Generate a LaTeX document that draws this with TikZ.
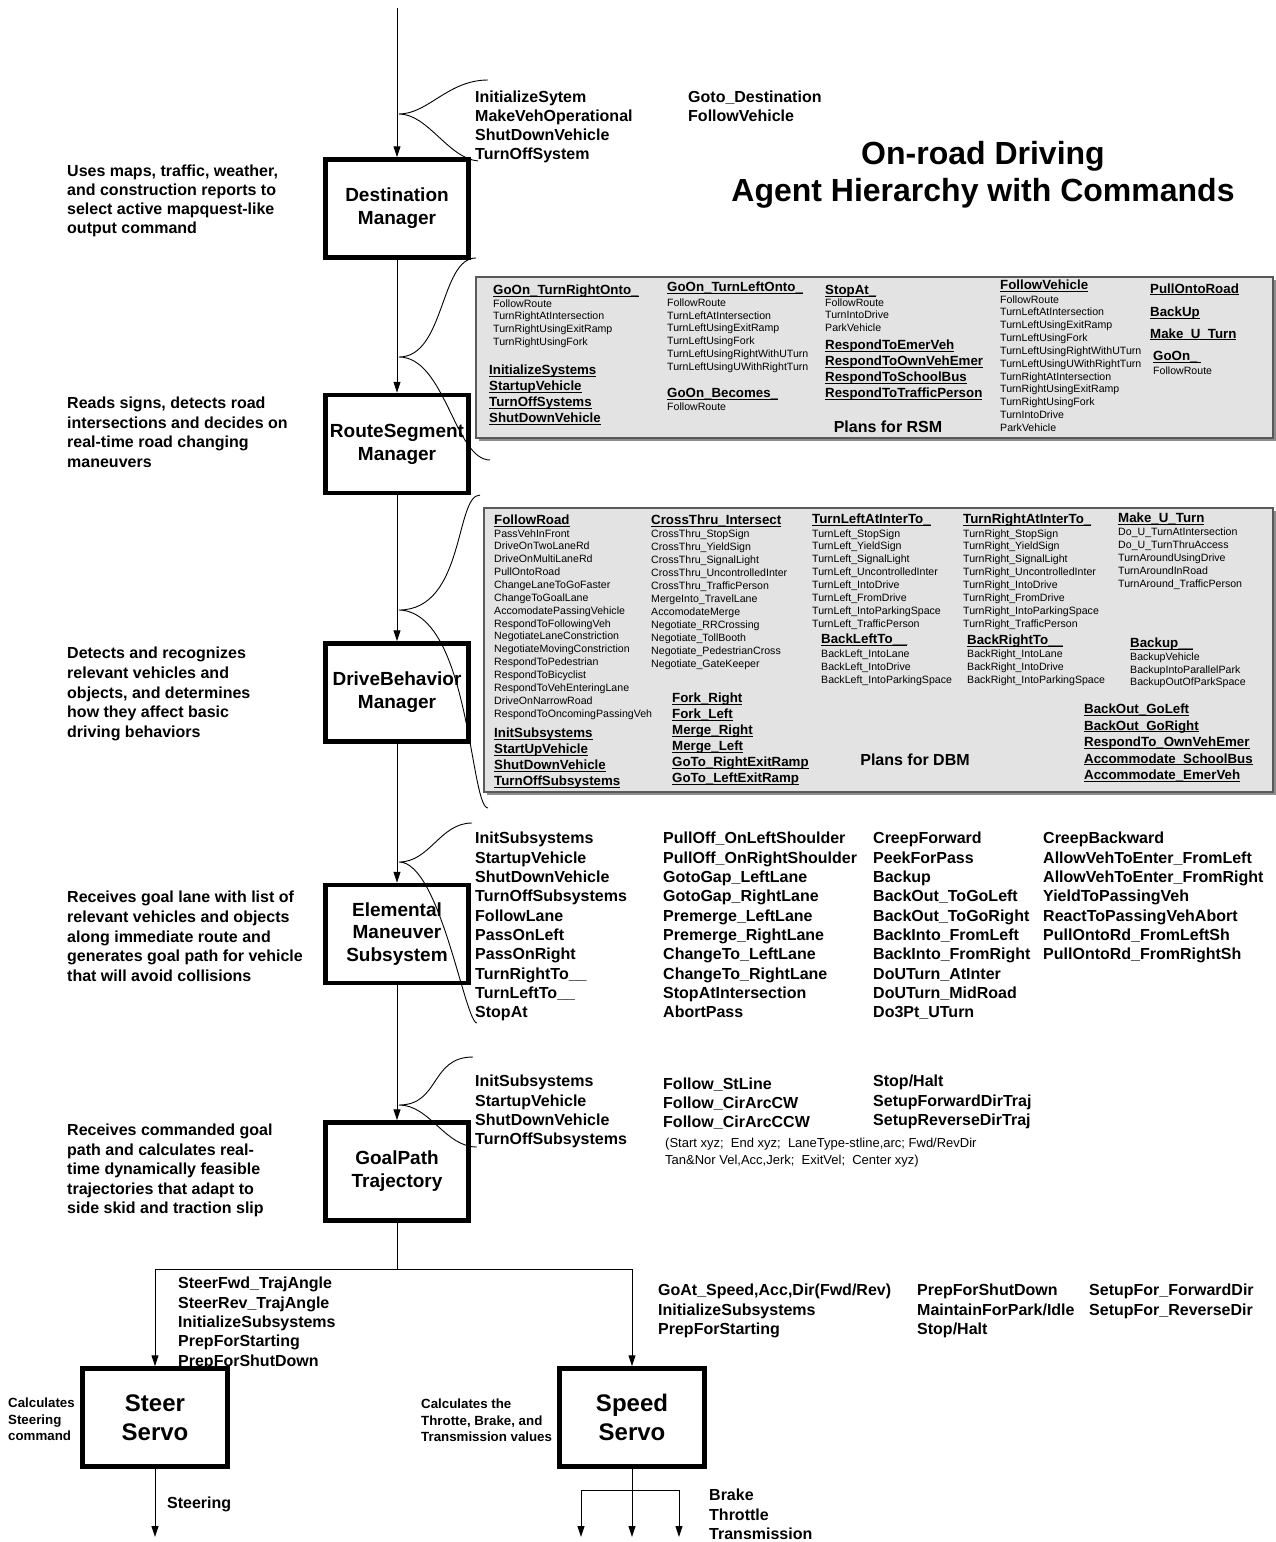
\documentclass[tikz,border=0pt]{standalone}
\usepackage{fontspec}
\setmainfont{Liberation Sans}
\usetikzlibrary{arrows.meta}

% underline that sits at the level of an underscore
\newsavebox\ulbox
\newcommand\ul[1]{\sbox\ulbox{#1}\rlap{\rule[-0.16em]{\wd\ulbox}{0.085em}}\usebox\ulbox}
% a column of text lines: name, style, x, first baseline, line step, lines
\newcommand\txtcol[6]{\foreach \txt [count=\i] in {#6}{\node[#2] (#1\i) at ({#3},{#4+(\i-1)*#5}) {\txt};}}

\tikzset{
  lbl/.style={inner sep=0pt, anchor=base west},
  cmd/.style={lbl, font=\fontsize{16}{19}\selectfont\bfseries},
  hdr/.style={lbl, font=\fontsize{13.3}{16}\selectfont\bfseries},
  itm/.style={lbl, font=\fontsize{10.6}{13}\selectfont},
  note/.style={lbl, font=\fontsize{13.3}{16}\selectfont\bfseries},
  param/.style={lbl, font=\fontsize{13}{16}\selectfont},
  title/.style={inner sep=0pt, anchor=base, font=\fontsize{32}{38}\selectfont\bfseries},
  plantitle/.style={inner sep=0pt, anchor=base, font=\fontsize{16}{19}\selectfont\bfseries},
  agent/.style={draw, line width=4.5pt, minimum width=143pt, minimum height=98pt,
    align=center, inner sep=0pt, font=\fontsize{19}{23}\selectfont\bfseries},
  servo/.style={agent, minimum width=145pt, font=\fontsize{24}{29}\selectfont\bfseries},
  plans/.style={draw=black!65, fill=black!11, line width=1.6pt, inner sep=0pt},
  shade/.style={fill=black!45},
  flow/.style={line width=1pt, -{Triangle[length=11pt,width=7pt]}},
  wire/.style={line width=1pt},
  brace/.style={line width=0.9pt},
}

\begin{document}
\begin{tikzpicture}[x=1pt,y=-1pt]
\useasboundingbox (0,0) rectangle (1275,1542);
\fill[white] (0,0) rectangle (1275,1542);

% ---------- plan panels ----------
\fill[shade] (479,280) rectangle (1276,441);
\node[plans, minimum width=797pt, minimum height=161pt] (rsmplans) at (874.5,357.5) {};
\fill[shade] (487,511) rectangle (1276,795);
\node[plans, minimum width=789pt, minimum height=284pt] (dbmplans) at (878.5,650) {};

% ---------- agents ----------
\node[agent] (dm) at (397,208.5) {Destination\\Manager};
\node[agent] (rsm) at (397,444) {RouteSegment\\Manager};
\node[agent] (dbm) at (397,692.5) {DriveBehavior\\Manager};
\node[agent, font=\fontsize{19}{22.5}\selectfont\bfseries] (ems) at (397,934) {Elemental\\Maneuver\\Subsystem};
\node[agent] (gpt) at (397,1171.5) {GoalPath\\Trajectory};
\node[servo] (steer) at (155,1417.5) {Steer\\Servo};
\node[servo] (speed) at (632,1417.5) {Speed\\Servo};

% ---------- command flow ----------
\coordinate (entry) at (397,8);
\draw[flow] (entry) -- (dm);
\draw[flow] (dm) -- (rsm);
\draw[flow] (rsm) -- (dbm);
\draw[flow] (dbm) -- (ems);
\draw[flow] (ems) -- (gpt);
\coordinate (bus) at (397,1269);
\coordinate (busL) at (155,1269);
\coordinate (busR) at (632,1269);
\draw[wire] (gpt) -- (bus);
\draw[wire] (busL) -- (busR);
\draw[flow] (busL) -- (steer);
\draw[flow] (busR) -- (speed);
\coordinate (steerOut) at (155,1537);
\draw[flow] (steer) -- (steerOut);
\coordinate (speedOut) at (632,1537);
\draw[flow] (speed) -- (speedOut);
\coordinate (fanL) at (581,1490);
\coordinate (fanR) at (679,1490);
\coordinate (brakeOut) at (581,1537);
\coordinate (transOut) at (679,1537);
\draw[wire] (fanL) -- (fanR);
\draw[flow] (fanL) -- (brakeOut);
\draw[flow] (fanR) -- (transOut);

% ---------- braces gathering each command set ----------
\coordinate (jA) at (399,114);  \coordinate (uA) at (488,80);   \coordinate (lA) at (478,161);
\draw[brace] (uA) .. controls (448,80) and (428,114) .. (jA) .. controls (428,114) and (448,158) .. (lA);
\coordinate (jB) at (399,357);  \coordinate (uB) at (476,258);  \coordinate (lB) at (490,460);
\draw[brace] (uB) .. controls (440,258) and (445,357) .. (jB) .. controls (445,357) and (455,460) .. (lB);
\coordinate (jC) at (399,610);  \coordinate (uC) at (480,495);  \coordinate (lC) at (488,808);
\draw[brace] (uC) .. controls (455,495) and (465,610) .. (jC) .. controls (470,612) and (470,808) .. (lC);
\coordinate (jD) at (399,862);  \coordinate (uD) at (472,823);  \coordinate (lD) at (477,1023);
\draw[brace] (uD) .. controls (440,823) and (430,862) .. (jD) .. controls (440,862) and (465,1023) .. (lD);
\coordinate (jE) at (399,1105); \coordinate (uE) at (473,1057); \coordinate (lE) at (477,1147);
\draw[brace] (uE) .. controls (430,1057) and (440,1105) .. (jE) .. controls (430,1105) and (445,1147) .. (lE);

% ---------- title ----------
\node[title] (title1) at (983,164) {On-road Driving};
\node[title] (title2) at (983,201) {Agent Hierarchy with Commands};

% ---------- descriptions ----------
\txtcol{dmd}{cmd}{67}{176.8}{19}{{Uses maps, traffic, weather,},{and construction reports to},{select active mapquest-like},{output command}}
\txtcol{rsmd}{cmd}{67}{408.8}{19.5}{{Reads signs, detects road},{intersections and decides on},{real-time road changing},{maneuvers}}
\txtcol{dbmd}{cmd}{67}{658.8}{19.7}{{Detects and recognizes},{relevant vehicles and},{objects, and determines},{how they affect basic},{driving behaviors}}
\txtcol{emsd}{cmd}{67}{902.8}{19.7}{{Receives goal lane with list of},{relevant vehicles and objects},{along immediate route and},{generates goal path for vehicle},{that will avoid collisions}}
\txtcol{gptd}{cmd}{67}{1135.8}{19.5}{{Receives commanded goal},{path and calculates real-},{time dynamically feasible},{trajectories that adapt to},{side skid and traction slip}}

% ---------- Destination Manager commands ----------
\txtcol{dmc}{cmd}{475}{102}{19}{InitializeSytem,MakeVehOperational,ShutDownVehicle,TurnOffSystem}
\txtcol{dmg}{cmd}{688}{102}{19}{Goto\_Destination,FollowVehicle}

% ---------- plans for RSM ----------
\node[hdr] (rsmh1) at (493,294.8) {\ul{GoOn\_TurnRightOnto\_}};
\txtcol{rsmi}{itm}{493}{307.1}{12.8}{FollowRoute,TurnRightAtIntersection,TurnRightUsingExitRamp,TurnRightUsingFork}
\txtcol{rsms}{hdr}{489}{374.8}{15.9}{\ul{InitializeSystems},\ul{StartupVehicle},\ul{TurnOffSystems},\ul{ShutDownVehicle}}
\node[hdr] (rsmh2) at (667,291.5) {\ul{GoOn\_TurnLeftOnto\_}};
\txtcol{rsml}{itm}{667}{306.1}{12.9}{FollowRoute,TurnLeftAtIntersection,TurnLeftUsingExitRamp,TurnLeftUsingFork,TurnLeftUsingRightWithUTurn,TurnLeftUsingUWithRightTurn}
\node[hdr] (rsmh3) at (667,397.5) {\ul{GoOn\_Becomes\_}};
\node[itm] (rsmb1) at (667,410.5) {FollowRoute};
\node[hdr] (rsmh4) at (825,294.8) {\ul{StopAt\_}};
\txtcol{rsmt}{itm}{825}{306.1}{12.5}{FollowRoute,TurnIntoDrive,ParkVehicle}
\txtcol{rsmr}{hdr}{825}{349.8}{16}{\ul{RespondToEmerVeh},\ul{RespondToOwnVehEmer},\ul{RespondToSchoolBus},\ul{RespondToTrafficPerson}}
\node[plantitle] (rsmtitle) at (888,432.8) {Plans for RSM};
\node[hdr] (rsmh5) at (1000,289.8) {\ul{FollowVehicle}};
\txtcol{rsmf}{itm}{1000}{303.1}{12.84}{FollowRoute,TurnLeftAtIntersection,TurnLeftUsingExitRamp,TurnLeftUsingFork,TurnLeftUsingRightWithUTurn,TurnLeftUsingUWithRightTurn,TurnRightAtIntersection,TurnRightUsingExitRamp,TurnRightUsingFork,TurnIntoDrive,ParkVehicle}
\node[hdr] (rsmh6) at (1150,293.1) {\ul{PullOntoRoad}};
\node[hdr] (rsmh7) at (1150,316.5) {\ul{BackUp}};
\node[hdr] (rsmh8) at (1150,338.1) {\ul{Make\_U\_Turn}};
\node[hdr] (rsmh9) at (1153,360.8) {\ul{GoOn\_\ }};
\node[itm] (rsmg1) at (1153,374.8) {FollowRoute};

% ---------- plans for DBM ----------
\node[hdr] (dbmh1) at (494,524.8) {\ul{FollowRoad}};
\txtcol{dbmf}{itm}{494}{537.1}{12.86}{PassVehInFront,DriveOnTwoLaneRd,DriveOnMultiLaneRd,PullOntoRoad,ChangeLaneToGoFaster,ChangeToGoalLane,AccomodatePassingVehicle,RespondToFollowingVeh,NegotiateLaneConstriction,NegotiateMovingConstriction,RespondToPedestrian,RespondToBicyclist,RespondToVehEnteringLane,DriveOnNarrowRoad,RespondToOncomingPassingVeh}
\txtcol{dbms}{hdr}{494}{737.8}{16}{\ul{InitSubsystems},\ul{StartUpVehicle},\ul{ShutDownVehicle},\ul{TurnOffSubsystems}}
\node[hdr] (dbmh2) at (651,524.8) {\ul{CrossThru\_Intersect}};
\txtcol{dbmc}{itm}{651}{537.1}{13}{CrossThru\_StopSign,CrossThru\_YieldSign,CrossThru\_SignalLight,CrossThru\_UncontrolledInter,CrossThru\_TrafficPerson,MergeInto\_TravelLane,AccomodateMerge,Negotiate\_RRCrossing,Negotiate\_TollBooth,Negotiate\_PedestrianCross,Negotiate\_GateKeeper}
\txtcol{dbmk}{hdr}{672}{702.8}{16}{\ul{Fork\_Right},\ul{Fork\_Left},\ul{Merge\_Right},\ul{Merge\_Left},\ul{GoTo\_RightExitRamp},\ul{GoTo\_LeftExitRamp}}
\node[hdr] (dbmh3) at (812,523.8) {\ul{TurnLeftAtInterTo\_}};
\txtcol{dbml}{itm}{812}{537.1}{12.86}{TurnLeft\_StopSign,TurnLeft\_YieldSign,TurnLeft\_SignalLight,TurnLeft\_UncontrolledInter,TurnLeft\_IntoDrive,TurnLeft\_FromDrive,TurnLeft\_IntoParkingSpace,TurnLeft\_TrafficPerson}
\node[hdr] (dbmh4) at (821,643.8) {\ul{BackLeftTo\_\_}};
\txtcol{dbmbl}{itm}{821}{657.8}{13}{BackLeft\_IntoLane,BackLeft\_IntoDrive,BackLeft\_IntoParkingSpace}
\node[hdr] (dbmh5) at (963,523.8) {\ul{TurnRightAtInterTo\_}};
\txtcol{dbmr}{itm}{963}{537.1}{12.86}{TurnRight\_StopSign,TurnRight\_YieldSign,TurnRight\_SignalLight,TurnRight\_UncontrolledInter,TurnRight\_IntoDrive,TurnRight\_FromDrive,TurnRight\_IntoParkingSpace,TurnRight\_TrafficPerson}
\node[hdr] (dbmh6) at (967,644.8) {\ul{BackRightTo\_\_}};
\txtcol{dbmbr}{itm}{967}{657.8}{13}{BackRight\_IntoLane,BackRight\_IntoDrive,BackRight\_IntoParkingSpace}
\node[hdr] (dbmh7) at (1118,522.8) {\ul{Make\_U\_Turn}};
\txtcol{dbmu}{itm}{1118}{535.8}{13}{Do\_U\_TurnAtIntersection,Do\_U\_TurnThruAccess,TurnAroundUsingDrive,TurnAroundInRoad,TurnAround\_TrafficPerson}
\node[hdr] (dbmh8) at (1130,647.8) {\ul{Backup\_\_}};
\txtcol{dbmbu}{itm}{1130}{660.8}{12.5}{BackupVehicle,BackupIntoParallelPark,BackupOutOfParkSpace}
\txtcol{dbmo}{hdr}{1084}{713.8}{16.5}{\ul{BackOut\_GoLeft},\ul{BackOut\_GoRight},\ul{RespondTo\_OwnVehEmer},\ul{Accommodate\_SchoolBus},\ul{Accommodate\_EmerVeh}}
\node[plantitle] (dbmtitle) at (915,765.8) {Plans for DBM};

% ---------- Elemental Maneuver commands ----------
\txtcol{emsa}{cmd}{475}{843.8}{19.35}{InitSubsystems,StartupVehicle,ShutDownVehicle,TurnOffSubsystems,FollowLane,PassOnLeft,PassOnRight,TurnRightTo\_\_,TurnLeftTo\_\_,StopAt}
\txtcol{emsb}{cmd}{663}{843.8}{19.35}{PullOff\_OnLeftShoulder,PullOff\_OnRightShoulder,GotoGap\_LeftLane,GotoGap\_RightLane,Premerge\_LeftLane,Premerge\_RightLane,ChangeTo\_LeftLane,ChangeTo\_RightLane,StopAtIntersection,AbortPass}
\txtcol{emsc}{cmd}{873}{843.8}{19.35}{CreepForward,PeekForPass,Backup,BackOut\_ToGoLeft,BackOut\_ToGoRight,BackInto\_FromLeft,BackInto\_FromRight,DoUTurn\_AtInter,DoUTurn\_MidRoad,Do3Pt\_UTurn}
\txtcol{emsd}{cmd}{1043}{843.8}{19.35}{CreepBackward,AllowVehToEnter\_FromLeft,AllowVehToEnter\_FromRight,YieldToPassingVeh,ReactToPassingVehAbort,PullOntoRd\_FromLeftSh,PullOntoRd\_FromRightSh}

% ---------- GoalPath commands ----------
\txtcol{gpta}{cmd}{475}{1086.8}{19.3}{InitSubsystems,StartupVehicle,ShutDownVehicle,TurnOffSubsystems}
\txtcol{gptb}{cmd}{663}{1089.8}{18.7}{Follow\_StLine,Follow\_CirArcCW,Follow\_CirArcCCW}
\txtcol{gptc}{cmd}{873}{1086.8}{19.3}{Stop/Halt,SetupForwardDirTraj,SetupReverseDirTraj}
\txtcol{gptp}{param}{665}{1147.6}{17}{{(Start xyz;\ \ End xyz;\ \ LaneType-stline,arc; Fwd/RevDir},{Tan\&Nor Vel,Acc,Jerk;\ \ ExitVel;\ \ Center xyz)}}

% ---------- servo commands ----------
\txtcol{stc}{cmd}{178}{1288.8}{19.3}{SteerFwd\_TrajAngle,SteerRev\_TrajAngle,InitializeSubsystems,PrepForStarting,PrepForShutDown}
\txtcol{spa}{cmd}{658}{1295.8}{19.5}{{GoAt\_Speed,Acc,Dir(Fwd/Rev)},InitializeSubsystems,PrepForStarting}
\txtcol{spb}{cmd}{917}{1295.8}{19.5}{PrepForShutDown,MaintainForPark/Idle,Stop/Halt}
\txtcol{spc}{cmd}{1089}{1295.8}{19.5}{SetupFor\_ForwardDir,SetupFor\_ReverseDir}
\txtcol{stn}{note}{8}{1407.8}{16.5}{Calculates,Steering,command}
\txtcol{spn}{note}{421}{1408.8}{16.3}{{Calculates the},{Throtte, Brake, and},{Transmission values}}

% ---------- servo outputs ----------
\node[cmd] (steering) at (167,1508.8) {Steering};
\txtcol{spo}{cmd}{709}{1500.8}{19.5}{Brake,Throttle,Transmission}

\end{tikzpicture}
\end{document}
